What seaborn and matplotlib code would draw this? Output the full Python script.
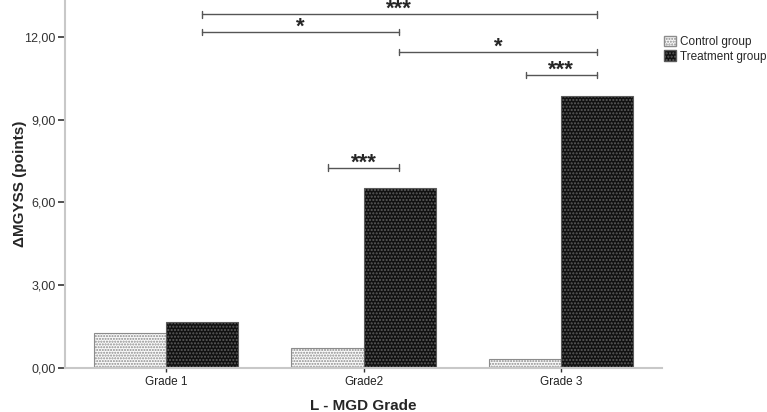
import pandas as pd
import matplotlib.pyplot as plt
import seaborn as sns
from matplotlib.patches import Patch

# values
grades = ['Grade 1', 'Grade2', 'Grade 3']
control = [1.28, 0.71, 0.33]
treatment = [1.68, 6.54, 9.86]
groups = ['Control group', 'Treatment group']
yticks = [0, 3, 6, 9, 12]
ytick_labels = ['0,00', '3,00', '6,00', '9,00', '12,00']

# significance brackets: (x1, x2, y, label)
brackets = [
    (0.18, 2.18, 12.82, '***'),
    (0.18, 1.18, 12.18, '*'),
    (1.18, 2.18, 11.46, '*'),
    (1.82, 2.18, 10.62, '***'),
    (0.82, 1.18, 7.26, '***'),
]

df = pd.DataFrame({
    'grade': grades * 2,
    'value': control + treatment,
    'group': [groups[0]] * 3 + [groups[1]] * 3,
})

sns.set_style('white')
plt.rcParams['font.family'] = ['Liberation Sans', 'DejaVu Sans']
plt.rcParams['hatch.linewidth'] = 1.0

fig = plt.figure(figsize=(7.67, 4.12), dpi=100)
ax = fig.add_axes([0.085, 0.107, 0.778, 0.893])

sns.barplot(data=df, x='grade', y='value', hue='group', order=grades,
            hue_order=groups, width=0.73, gap=0, ax=ax, legend=False,
            palette=['white', '#1c1c1c'], saturation=1)

styles = [dict(face='#fafafa', hatch='......', edge='#8c8c8c'),
          dict(face='#111111', hatch='.....', edge='#5c5c5c')]
for i, cont in enumerate(ax.containers):
    for bar in cont:
        bar.set_facecolor(styles[i]['face'])
        bar.set_hatch(styles[i]['hatch'])
        bar.set_edgecolor(styles[i]['edge'])
        bar.set_linewidth(0.8)

ax.set_xlim(-0.51, 2.51)
ax.set_ylim(0, 13.34)
ax.set_yticks(yticks)
ax.set_yticklabels(ytick_labels, fontsize=9, color='#333333')
ax.tick_params(axis='y', left=True, length=5, width=1.2, color='#333333', pad=2)
ax.tick_params(axis='x', bottom=True, length=3, width=1, color='#333333', labelsize=8.5,
               labelcolor='#222222', pad=3)
ax.set_xlabel('L - MGD Grade', fontsize=11, fontweight='bold', labelpad=8)
ax.set_ylabel('ΔMGYSS (points)', fontsize=11, fontweight='bold', labelpad=-2)
for s in ['top', 'right']:
    ax.spines[s].set_visible(False)
for s in ['left', 'bottom']:
    ax.spines[s].set_color('#c8c8c8')
    ax.spines[s].set_linewidth(1.5)

for x1, x2, y, lab in brackets:
    ax.plot([x1, x2], [y, y], color='#555555', lw=1)
    ax.plot([x1, x1], [y - 0.12, y + 0.12], color='#555555', lw=1)
    ax.plot([x2, x2], [y - 0.12, y + 0.12], color='#555555', lw=1)
    ax.text((x1 + x2) / 2, y - 0.02, lab, ha='center', va='baseline',
            fontsize=16, fontweight='bold')

handles = [Patch(facecolor=styles[i]['face'], hatch=styles[i]['hatch'],
                 edgecolor=styles[i]['edge'], label=groups[i]) for i in range(2)]
fig.legend(handles=handles, loc='upper left', bbox_to_anchor=(0.86, 0.925),
           frameon=False, fontsize=8.5, handlelength=1.0, handleheight=1.0,
           handletextpad=0.3, labelspacing=0.2, borderaxespad=0)

fig.savefig('out.png', dpi=100)
